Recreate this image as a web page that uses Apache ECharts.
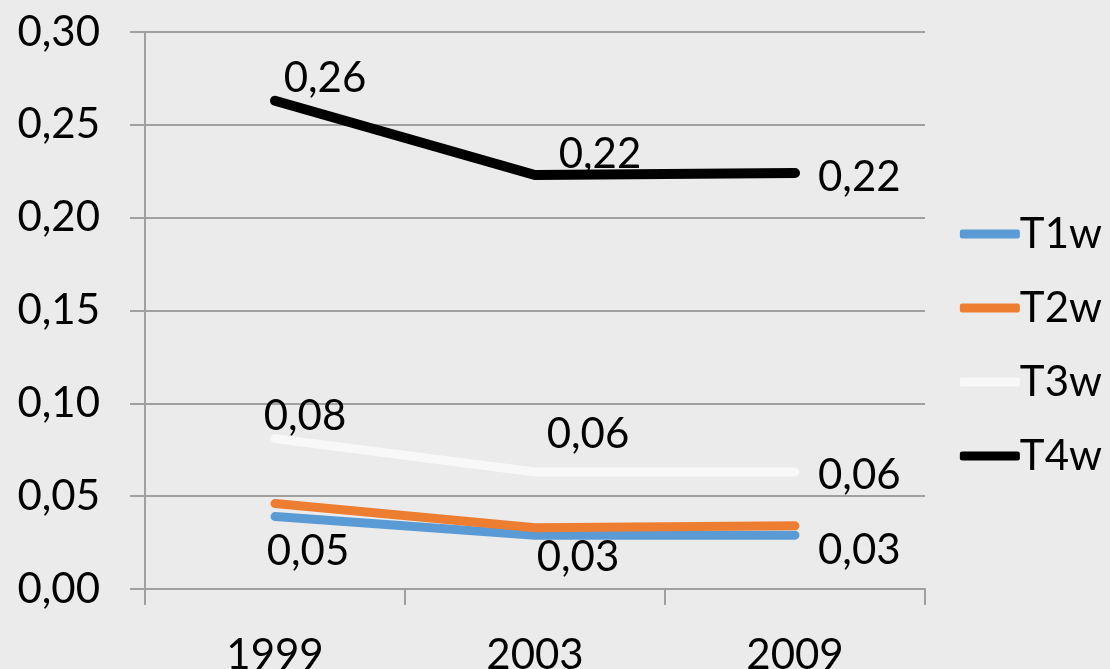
<!DOCTYPE html>
<html>
<head>
<meta charset="utf-8">
<script src="https://cdn.jsdelivr.net/npm/echarts@6/dist/echarts.min.js"></script>
<style>
  html, body { margin: 0; padding: 0; background: #ebebeb; overflow: hidden; }
  #main { width: 1110px; height: 669px; }
</style>
</head>
<body>
<div id="main"></div>
<script>
var years = ['1999', '2003', '2009'];
var t1w = [0.039, 0.029, 0.029];
var t2w = [0.046, 0.033, 0.034];
var t3w = [0.081, 0.063, 0.063];
var t4w = [0.263, 0.223, 0.224];
var yTicks = [0, 0.05, 0.10, 0.15, 0.20, 0.25, 0.30];

var chartDom = document.getElementById('main');
var myChart = echarts.init(chartDom);
var font = 'Lato';
var fs = 42;

function comma(v, d) {
  return v.toFixed(d).replace('.', ',');
}

// data labels are placed one by one, like the original
function withLabels(values, offsets) {
  return values.map(function (v, i) {
    return {
      value: v,
      label: {
        show: true,
        position: offsets[i][0],
        offset: offsets[i].slice(1),
        formatter: function (p) { return comma(p.value, 2); }
      }
    };
  });
}

var lineSeries = function (name, color, width, data) {
  return {
    name: name,
    type: 'line',
    data: data,
    showSymbol: true,
    symbol: 'circle',
    symbolSize: 0,
    silent: true,
    lineStyle: { color: color, width: width, cap: 'round', join: 'miter' },
    itemStyle: { color: color },
    label: { color: '#000', fontSize: fs, fontFamily: font, distance: 0 },
    animation: false
  };
};

var option = {
  backgroundColor: '#ebebeb',
  grid: { left: 145, right: 185, top: 32, bottom: 80, outerBoundsMode: 'none' },
  legend: {
    orient: 'vertical',
    right: 3,
    top: 208,
    itemWidth: 60,
    itemHeight: 9,
    itemGap: 32,
    icon: 'roundRect',
    textStyle: { fontSize: fs, fontFamily: font, color: '#000', padding: [0, 0, 0, -5] },
    data: ['T1w', 'T2w', 'T3w', 'T4w']
  },
  xAxis: {
    type: 'category',
    data: years,
    boundaryGap: true,
    axisLine: { lineStyle: { color: '#a0a0a0', width: 2 } },
    axisTick: { show: true, length: 16, lineStyle: { color: '#a0a0a0', width: 2 } },
    axisLabel: { fontSize: fs, fontFamily: font, color: '#000', margin: 45 }
  },
  yAxis: {
    type: 'value',
    min: 0,
    max: 0.30,
    interval: 0.05,
    axisLine: { show: true, lineStyle: { color: '#a0a0a0', width: 2 } },
    axisTick: { show: true, length: 15, lineStyle: { color: '#a0a0a0', width: 2 } },
    splitLine: { lineStyle: { color: '#a0a0a0', width: 2 } },
    axisLabel: {
      fontSize: fs, fontFamily: font, color: '#000', margin: 45,
      formatter: function (v) {
        var t = yTicks.find(function (x) { return Math.abs(x - v) < 1e-6; });
        return comma(t === undefined ? v : t, 2);
      }
    }
  },
  series: [
    lineSeries('T1w', '#5b9bd5', 9, t1w),
    lineSeries('T2w', '#ed7d31', 9, withLabels(t2w, [
      ['bottom', 33, 27], ['bottom', 43, 9], ['right', 23, 25]
    ])),
    lineSeries('T3w', '#f8f8f8', 9, withLabels(t3w, [
      ['top', 30, -1], ['top', 53, -17], ['right', 23, 3]
    ])),
    lineSeries('T4w', '#000000', 10, withLabels(t4w, [
      ['top', 50, -1], ['top', 65, 0], ['right', 23, 4]
    ]))
  ]
};

option && myChart.setOption(option);
</script>
</body>
</html>
